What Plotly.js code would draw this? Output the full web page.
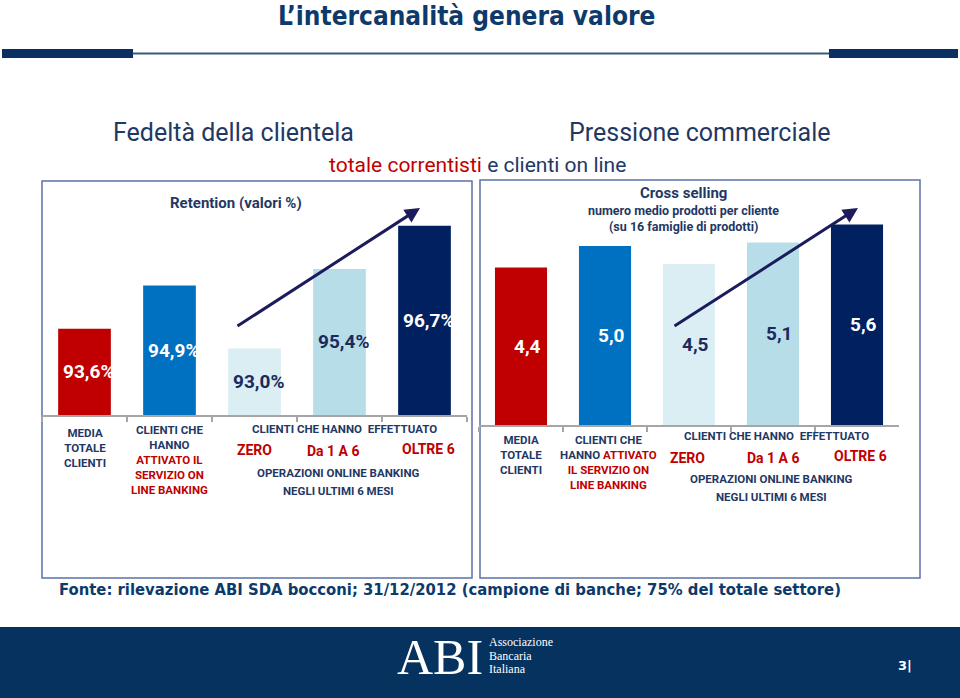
<!DOCTYPE html>
<html>
<head>
<meta charset="utf-8">
<script src="https://cdn.plot.ly/plotly-3.0.1.min.js"></script>
<style>
html,body{margin:0;padding:0;background:#fff;}
#chart{width:960px;height:698px;}
</style>
</head>
<body>
<div id="chart"></div>
<script>
// ---- data ----
const categories = ['Media totale clienti', 'Clienti online banking', 'Zero operazioni', 'Da 1 a 6 operazioni', 'Oltre 6 operazioni'];
const retention = [93.6, 94.9, 93.0, 95.4, 96.7];
const crossSelling = [4.4, 5.0, 4.5, 5.1, 5.6];
const barColors = ['#c00000', '#0070c0', '#daeef3', '#b7dde8', '#002060'];
const labelColors = ['#ffffff', '#ffffff', '#1b2a5c', '#1b2a5c', '#ffffff'];

// ---- helpers ----
const W = 960, H = 698;
const px = x => x / W;
const py = y => 1 - y / H;
const NAVY = '#1f3864';
const RED = '#c00000';
const SANS = 'Roboto, sans-serif';
const COND = 'DejaVu Sans Condensed, DejaVu Sans, Verdana, sans-serif';
const fmt = (v, suffix) => v.toFixed(1).replace('.', ',') + suffix;
const retRange = [91, 91 + 225 / 33.2];
const csRange = [0, 235 / 35.8];

const traces = [
  {
    type: 'bar', x: categories, y: retention, xaxis: 'x', yaxis: 'y',
    marker: {color: barColors, line: {width: 0}},
    hoverinfo: 'skip'
  },
  {
    type: 'bar', x: categories, y: crossSelling, xaxis: 'x2', yaxis: 'y2',
    marker: {color: barColors, line: {width: 0}},
    hoverinfo: 'skip'
  }
];

const xaxisBase = {
  type: 'category', showgrid: false, zeroline: false, showticklabels: false,
  showline: true, linecolor: '#a6a6a6', linewidth: 1.5,
  ticks: 'outside', tickson: 'boundaries', ticklen: 5, tickcolor: '#a6a6a6', tickwidth: 1.5,
  fixedrange: true
};
const yaxisBase = {showgrid: false, zeroline: false, showticklabels: false, showline: false, ticks: '', fixedrange: true};

const annotations = [];
function ann(text, x, y, o) {
  o = o || {};
  annotations.push(Object.assign({
    text: text, xref: 'paper', yref: 'paper', x: px(x), y: py(y),
    xanchor: 'center', yanchor: 'middle', showarrow: false,
    font: {family: SANS, size: 12, color: NAVY}
  }, o));
}
function catAnn(text, xref, cat, y, o) {
  o = o || {};
  annotations.push(Object.assign({
    text: text, xref: xref, yref: 'paper', x: cat, y: py(y),
    xanchor: 'center', yanchor: 'top', showarrow: false, align: 'center',
    font: {family: SANS, size: 11.5, color: NAVY, weight: 'bold'}
  }, o));
}
const red = s => '<span style="color:' + RED + '">' + s + '</span>';

// value labels, centred in the visible part of each bar
retention.forEach((v, i) => {
  annotations.push({
    text: fmt(v, '%'), xref: 'x', yref: 'y', x: categories[i], y: (retRange[0] + v) / 2, xshift: 4,
    xanchor: 'center', yanchor: 'middle', showarrow: false,
    font: {family: SANS, size: 19, color: labelColors[i], weight: 'bold'}
  });
});
crossSelling.forEach((v, i) => {
  annotations.push({
    text: fmt(v, ''), xref: 'x2', yref: 'y2', x: categories[i], y: (csRange[0] + v) / 2, xshift: 6,
    xanchor: 'center', yanchor: 'middle', showarrow: false,
    font: {family: SANS, size: 19, color: labelColors[i], weight: 'bold'}
  });
});

// title
ann('L\u2019intercanalità genera valore', 466, 16, {font: {family: COND, size: 26, color: '#0d3a6b', weight: 'bold'}});
// headers
ann('Fedeltà della clientela', 233, 132, {font: {family: SANS, size: 25, color: NAVY}});
ann('Pressione commerciale', 699, 132, {font: {family: SANS, size: 25, color: NAVY}});
ann(red('totale correntisti') + ' e clienti on line', 477, 165, {font: {family: SANS, size: 21, color: NAVY}});
ann('Retention (valori %)', 236, 203, {font: {family: SANS, size: 15, color: NAVY, weight: 'bold'}});
ann('Cross selling', 683, 193, {font: {family: SANS, size: 15, color: NAVY, weight: 'bold'}});
ann('numero medio prodotti per cliente', 683, 211, {font: {family: SANS, size: 12.5, color: NAVY, weight: 'bold'}});
ann('(su 16 famiglie di prodotti)', 683, 226, {font: {family: SANS, size: 12.5, color: NAVY, weight: 'bold'}});

// category labels - left
catAnn('MEDIA<br>TOTALE<br>CLIENTI', 'x', categories[0], 424);
catAnn('CLIENTI CHE<br>HANNO<br>' + red('ATTIVATO IL') + '<br>' + red('SERVIZIO ON') + '<br>' + red('LINE BANKING'), 'x', categories[1], 421);
ann('CLIENTI CHE HANNO\u00a0\u00a0EFFETTUATO', 344, 429, {font: {family: SANS, size: 11.5, color: NAVY, weight: 'bold'}});
catAnn('ZERO', 'x', categories[2], 450, {yanchor: 'middle', font: {family: SANS, size: 14, color: RED, weight: 'bold'}});
catAnn('Da 1 A 6', 'x', categories[3], 451, {yanchor: 'middle', xshift: -6, font: {family: SANS, size: 14, color: RED, weight: 'bold'}});
catAnn('OLTRE 6', 'x', categories[4], 449, {yanchor: 'middle', xshift: 4, font: {family: SANS, size: 14, color: RED, weight: 'bold'}});
ann('OPERAZIONI ONLINE BANKING', 338, 473, {font: {family: SANS, size: 11.5, color: NAVY, weight: 'bold'}});
ann('NEGLI ULTIMI 6 MESI', 338, 491, {font: {family: SANS, size: 11.5, color: NAVY, weight: 'bold'}});

// category labels - right
catAnn('MEDIA<br>TOTALE<br>CLIENTI', 'x2', categories[0], 431);
catAnn('CLIENTI CHE<br>HANNO ' + red('ATTIVATO') + '<br>' + red('IL SERVIZIO ON') + '<br>' + red('LINE BANKING'), 'x2', categories[1], 431, {xshift: 3});
ann('CLIENTI CHE HANNO\u00a0\u00a0EFFETTUATO', 776, 436, {font: {family: SANS, size: 11.5, color: NAVY, weight: 'bold'}});
catAnn('ZERO', 'x2', categories[2], 458, {yanchor: 'middle', xshift: -2, font: {family: SANS, size: 14, color: RED, weight: 'bold'}});
catAnn('Da 1 A 6', 'x2', categories[3], 458, {yanchor: 'middle', font: {family: SANS, size: 14, color: RED, weight: 'bold'}});
catAnn('OLTRE 6', 'x2', categories[4], 456, {yanchor: 'middle', xshift: 3, font: {family: SANS, size: 14, color: RED, weight: 'bold'}});
ann('OPERAZIONI ONLINE BANKING', 771, 479, {font: {family: SANS, size: 11.5, color: NAVY, weight: 'bold'}});
ann('NEGLI ULTIMI 6 MESI', 771, 497, {font: {family: SANS, size: 11.5, color: NAVY, weight: 'bold'}});

// arrows
annotations.push({text: '', xref: 'paper', yref: 'paper', x: px(420), y: py(208), ax: 236 - 420, ay: 327 - 208,
  showarrow: true, arrowhead: 2, arrowsize: 1, arrowwidth: 3, arrowcolor: '#1c1c5c', standoff: 0});
annotations.push({text: '', xref: 'paper', yref: 'paper', x: px(858), y: py(208), ax: 673 - 858, ay: 327 - 208,
  showarrow: true, arrowhead: 2, arrowsize: 1, arrowwidth: 3, arrowcolor: '#1c1c5c', standoff: 0});

// source + footer
ann('Fonte: rilevazione ABI SDA bocconi; 31/12/2012 (campione di banche; 75% del totale settore)', 450, 589,
  {font: {family: COND, size: 16.5, color: '#0d3a6b', weight: 'bold'}});
ann('ABI', 440, 657, {font: {family: 'Liberation Serif, serif', size: 50, color: '#ffffff'}});
ann('Associazione', 487, 642, {xanchor: 'left', font: {family: 'Liberation Serif, serif', size: 12, color: '#ffffff'}});
ann('Bancaria', 487, 655.5, {xanchor: 'left', font: {family: 'Liberation Serif, serif', size: 12, color: '#ffffff'}});
ann('Italiana', 487, 669, {xanchor: 'left', font: {family: 'Liberation Serif, serif', size: 12, color: '#ffffff'}});
ann('3|', 905, 665, {font: {family: 'DejaVu Sans, sans-serif', size: 13, color: '#ffffff', weight: 'bold'}});

const shapes = [
  // header rule
  {type: 'rect', xref: 'paper', yref: 'paper', x0: px(2), x1: px(133), y0: py(58), y1: py(49), fillcolor: '#0a3161', line: {width: 0}},
  {type: 'line', xref: 'paper', yref: 'paper', x0: px(133), x1: px(829), y0: py(53.5), y1: py(53.5), line: {color: '#3b5a80', width: 2}},
  {type: 'rect', xref: 'paper', yref: 'paper', x0: px(829), x1: px(958), y0: py(58), y1: py(49), fillcolor: '#0a3161', line: {width: 0}},
  // boxes
  {type: 'rect', xref: 'paper', yref: 'paper', x0: px(42), x1: px(472), y0: py(578), y1: py(181), line: {color: '#5a72a6', width: 1.5}, fillcolor: 'rgba(0,0,0,0)', layer: 'below'},
  {type: 'rect', xref: 'paper', yref: 'paper', x0: px(480), x1: px(920), y0: py(578), y1: py(180), line: {color: '#5a72a6', width: 1.5}, fillcolor: 'rgba(0,0,0,0)', layer: 'below'},
  // footer band
  {type: 'rect', xref: 'paper', yref: 'paper', x0: 0, x1: 1, y0: 0, y1: py(627), fillcolor: '#06325f', line: {width: 0}, layer: 'below'}
];

const layout = {
  width: W, height: H, margin: {l: 0, r: 0, t: 0, b: 0, pad: 0},
  paper_bgcolor: '#ffffff', plot_bgcolor: 'rgba(0,0,0,0)',
  showlegend: false, bargap: 0.38,
  xaxis: Object.assign({}, xaxisBase, {domain: [px(42), px(467)], anchor: 'y'}),
  yaxis: Object.assign({}, yaxisBase, {domain: [py(415), py(190)], range: retRange, anchor: 'x'}),
  xaxis2: Object.assign({}, xaxisBase, {domain: [px(479), px(899)], anchor: 'y2'}),
  yaxis2: Object.assign({}, yaxisBase, {domain: [py(425), py(190)], range: csRange, anchor: 'x2'}),
  annotations: annotations,
  shapes: shapes,
  font: {family: SANS}
};

Plotly.newPlot('chart', traces, layout, {staticPlot: true, displayModeBar: false});
</script>
</body>
</html>
